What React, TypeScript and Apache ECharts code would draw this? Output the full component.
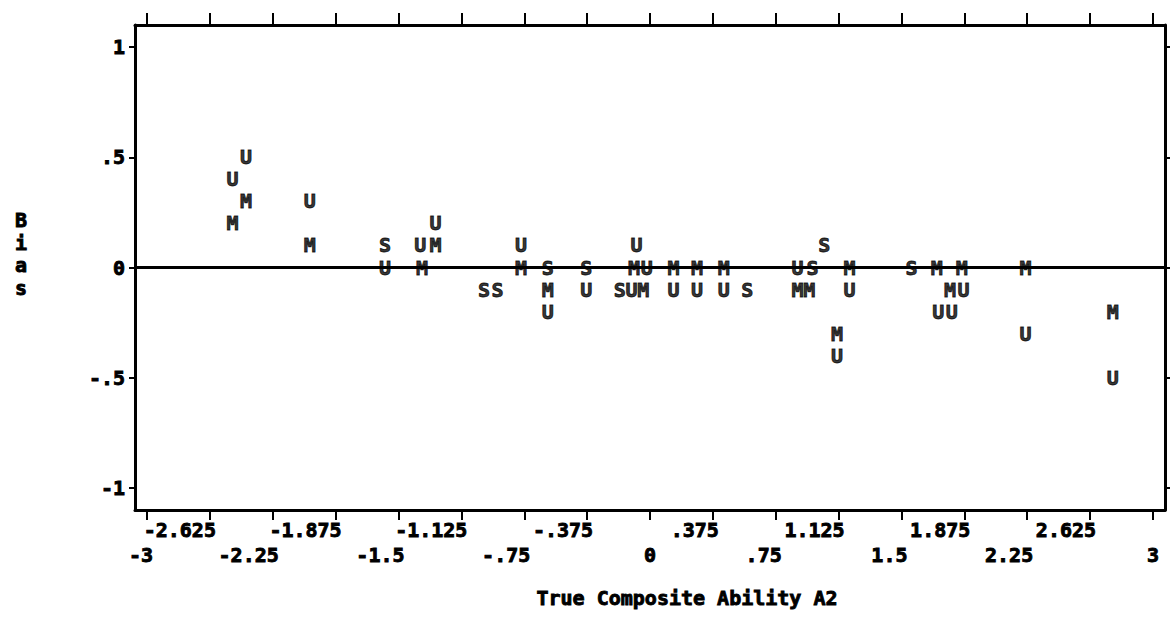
import React, { useEffect, useRef } from "react";
import * as echarts from "echarts";

const xTicks = [-3, -2.625, -2.25, -1.875, -1.5, -1.125, -0.75, -0.375, 0, 0.375, 0.75, 1.125, 1.5, 1.875, 2.25, 2.625, 3];
const xTickLabels = ["-3", "-2.625", "-2.25", "-1.875", "-1.5", "-1.125", "-.75", "-.375", "0", ".375", ".75", "1.125", "1.5", "1.875", "2.25", "2.625", "3"];
const yTicks = [-1, -0.5, 0, 0.5, 1];
const yTickLabels = ["-1", "-.5", "0", ".5", "1"];

const xTitle = "True Composite Ability A2";
const yTitle = "Bias";

// Points plotted with the letter "U"
const uPoints = [
  [-2.41, 0.5], [-2.49, 0.4], [-2.03, 0.3], [-1.58, 0], [-1.28, 0.2], [-1.37, 0.1],
  [-0.77, 0.1], [-0.61, -0.2], [-0.38, -0.1], [-0.08, 0.1], [-0.02, 0], [-0.11, -0.1],
  [0.14, -0.1], [0.28, -0.1], [0.44, -0.1], [0.88, 0], [1.19, -0.1], [1.115, -0.4],
  [1.72, -0.2], [1.8, -0.2], [1.87, -0.1], [2.24, -0.3], [2.76, -0.5],
];
// Points plotted with the letter "M"
const mPoints = [
  [-2.41, 0.3], [-2.49, 0.2], [-2.03, 0.1], [-1.28, 0.1], [-1.36, 0], [-0.77, 0],
  [-0.61, -0.1], [-0.095, 0], [-0.04, -0.1], [0.14, 0], [0.28, 0], [0.44, 0],
  [0.88, -0.1], [0.95, -0.1], [1.19, 0], [1.115, -0.3], [1.71, 0], [1.86, 0],
  [1.79, -0.1], [2.24, 0], [2.76, -0.2],
];
// Points plotted with the letter "S"
const sPoints = [
  [-1.58, 0.1], [-0.99, -0.1], [-0.91, -0.1], [-0.61, 0], [-0.38, 0], [-0.18, -0.1],
  [0.58, -0.1], [0.97, 0], [1.04, 0.1], [1.56, 0],
];

const FONT = "'DejaVu Sans Mono', 'Liberation Mono', monospace";

function findIndex(ticks: number[], v: number) {
  for (let i = 0; i < ticks.length; i++) if (Math.abs(ticks[i] - v) < 1e-6) return i;
  return -1;
}

const heavy = { textBorderColor: "#000", textBorderWidth: 0.9 };

function letterSeries(name: string, letter: string, data: number[][], extra: any = {}) {
  return {
    type: "scatter",
    name,
    data,
    xAxisIndex: 0,
    yAxisIndex: 0,
    symbol: "circle",
    symbolSize: 2,
    itemStyle: { color: "transparent" },
    label: {
      show: true,
      position: "inside",
      formatter: letter,
      color: "#000",
      fontFamily: FONT,
      fontWeight: "bold",
      fontSize: 20,
      ...heavy,
    },
    emphasis: { disabled: true },
    silent: true,
    ...extra,
  };
}

export default function App() {
  const ref = useRef<HTMLDivElement>(null);
  useEffect(() => {
    if (!ref.current) return;
    const chart = echarts.init(ref.current, undefined, { renderer: "svg" });
    const textBase = { color: "#000", fontFamily: FONT, fontWeight: "bold", fontSize: 20, ...heavy };
    const xRange = { min: -3.072, max: 3.072 };
    const yRange = { min: -1.1, max: 1.1 };
    const row1 = xTicks.filter((_, i) => i % 2 === 1);
    const row2 = xTicks.filter((_, i) => i % 2 === 0);
    const xLabelFmt = (v: number) => {
      const i = findIndex(xTicks, v);
      return i < 0 ? "" : xTickLabels[i];
    };
    const labelAxis = (values: number[], margin: number) => ({
      type: "value",
      position: "bottom",
      ...xRange,
      axisLine: { show: false, onZero: false },
      axisTick: { show: false },
      axisLabel: {
        show: true,
        customValues: values,
        showMinLabel: true,
        showMaxLabel: true,
        hideOverlap: false,
        formatter: xLabelFmt,
        align: "right",
        verticalAlign: "middle",
        margin,
        padding: [0, -6, 0, 0],
        ...textBase,
      },
      splitLine: { show: false },
    });
    chart.setOption({
      animation: false,
      backgroundColor: "#fff",
      grid: { left: 135, right: 7, top: 25, bottom: 108, containLabel: false },
      xAxis: [
        {
          type: "value",
          position: "bottom",
          ...xRange,
          axisLine: { show: true, onZero: false, lineStyle: { color: "#000", width: 3 } },
          axisTick: { show: true, customValues: xTicks, length: 10, lineStyle: { color: "#000", width: 2 } },
          axisLabel: { show: false },
          splitLine: { show: false },
          name: xTitle,
          nameLocation: "middle",
          nameGap: 78,
          nameTextStyle: { ...textBase, padding: [0, 0, 0, 74] },
        },
        {
          type: "value",
          position: "top",
          ...xRange,
          axisLine: { show: true, onZero: false, lineStyle: { color: "#000", width: 3 } },
          axisTick: { show: true, customValues: xTicks, length: 12, lineStyle: { color: "#000", width: 2 } },
          axisLabel: { show: false },
          splitLine: { show: false },
        },
        labelAxis(row1, 20),
        labelAxis(row2, 45),
      ],
      yAxis: [
        {
          type: "value",
          position: "left",
          ...yRange,
          axisLine: { show: true, onZero: false, lineStyle: { color: "#000", width: 3 } },
          axisTick: { show: true, customValues: yTicks, length: 6, lineStyle: { color: "#000", width: 2 } },
          axisLabel: {
            show: true,
            customValues: yTicks,
            showMinLabel: true,
            showMaxLabel: true,
            formatter: (v: number) => {
              const i = findIndex(yTicks, v);
              return i < 0 ? "" : yTickLabels[i];
            },
            margin: 10,
            ...textBase,
          },
          splitLine: { show: false },
        },
        {
          type: "value",
          position: "right",
          ...yRange,
          axisLine: { show: true, onZero: false, lineStyle: { color: "#000", width: 3 } },
          axisTick: { show: true, customValues: yTicks, length: 5, lineStyle: { color: "#000", width: 2 } },
          axisLabel: { show: false },
          splitLine: { show: false },
        },
      ],
      graphic: [
        {
          type: "text",
          x: 21,
          y: 254,
          style: {
            text: yTitle.split("").join("\n"),
            fill: "#000",
            stroke: "#000",
            lineWidth: 0.9,
            font: `bold 20px ${FONT}`,
            lineHeight: 22.5,
            align: "center",
            verticalAlign: "middle",
          },
        },
      ],
      series: [
        letterSeries("U", "U", uPoints, {
          markLine: {
            silent: true,
            symbol: ["none", "none"],
            label: { show: false },
            lineStyle: { color: "#000", width: 3, type: "solid" },
            data: [{ yAxis: 0 }],
            emphasis: { disabled: true },
          },
        }),
        letterSeries("M", "M", mPoints),
        letterSeries("S", "S", sPoints),
      ],
    });
    return () => chart.dispose();
  }, []);
  return (
    <div
      ref={ref}
      style={{ position: "fixed", left: 0, top: 0, width: 1172, height: 618, background: "#fff" }}
    />
  );
}
